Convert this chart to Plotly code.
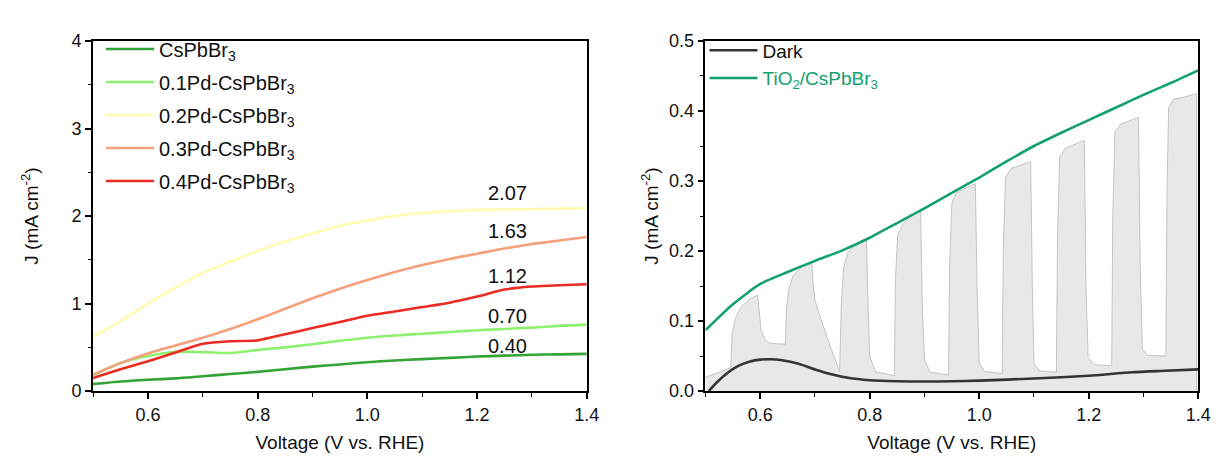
import plotly.graph_objects as go

# ---------------- Left panel data ----------------
v_left = [0.50, 0.55, 0.60, 0.65, 0.70, 0.75, 0.80, 0.85, 0.90, 0.95,
          1.00, 1.05, 1.10, 1.15, 1.20, 1.25, 1.30, 1.35, 1.40]
j_cspbbr3 = [0.08, 0.11, 0.13, 0.145, 0.17, 0.195, 0.22, 0.25, 0.28, 0.305,
             0.33, 0.35, 0.365, 0.38, 0.395, 0.405, 0.415, 0.42, 0.425]
j_01pd = [0.18, 0.32, 0.40, 0.45, 0.445, 0.435, 0.47, 0.50, 0.535, 0.575,
          0.61, 0.635, 0.655, 0.675, 0.695, 0.71, 0.725, 0.745, 0.76]
j_02pd = [0.62, 0.80, 1.00, 1.18, 1.35, 1.48, 1.60, 1.71, 1.80, 1.89,
          1.95, 2.00, 2.035, 2.055, 2.07, 2.075, 2.08, 2.085, 2.09]
j_03pd = [0.19, 0.32, 0.43, 0.52, 0.61, 0.71, 0.82, 0.94, 1.06, 1.17,
          1.27, 1.36, 1.44, 1.51, 1.57, 1.63, 1.68, 1.72, 1.76]
j_04pd = [0.15, 0.25, 0.34, 0.44, 0.54, 0.57, 0.58, 0.65, 0.72, 0.79,
          0.86, 0.91, 0.96, 1.01, 1.08, 1.16, 1.195, 1.21, 1.22]
left_names = ["CsPbBr<sub>3</sub>", "0.1Pd-CsPbBr<sub>3</sub>", "0.2Pd-CsPbBr<sub>3</sub>",
              "0.3Pd-CsPbBr<sub>3</sub>", "0.4Pd-CsPbBr<sub>3</sub>"]
left_colors = ["#34A234", "#8DF070", "#FFFBB0", "#F5A07C", "#EC2B25"]

value_labels = ["2.07", "1.63", "1.12", "0.70", "0.40"]
label_x = [1.255, 1.255, 1.255, 1.255, 1.255]
label_y = [2.26, 1.83, 1.31, 0.86, 0.52]

# ---------------- Right panel data ----------------
v_light = [0.50, 0.546, 0.549, 0.555, 0.565, 0.580, 0.595,
           0.598, 0.602, 0.610, 0.620, 0.646,
           0.648, 0.652, 0.660, 0.675, 0.694,
           0.697, 0.700, 0.710, 0.725, 0.745,
           0.748, 0.752, 0.760, 0.775, 0.794,
           0.797, 0.800, 0.810, 0.845,
           0.847, 0.851, 0.860, 0.875, 0.893,
           0.896, 0.900, 0.910, 0.944,
           0.946, 0.950, 0.958, 0.975, 0.993,
           0.996, 1.000, 1.010, 1.042,
           1.044, 1.048, 1.058, 1.075, 1.094,
           1.097, 1.100, 1.110, 1.141,
           1.143, 1.147, 1.158, 1.175, 1.192,
           1.195, 1.199, 1.210, 1.242,
           1.244, 1.248, 1.258, 1.275, 1.291,
           1.294, 1.298, 1.308, 1.341,
           1.343, 1.346, 1.355, 1.375, 1.393, 1.397, 1.397]
j_light = [0.020, 0.033, 0.085, 0.105, 0.120, 0.131, 0.137,
           0.110, 0.085, 0.072, 0.068, 0.067,
           0.120, 0.145, 0.165, 0.177, 0.183,
           0.150, 0.130, 0.105, 0.070, 0.028,
           0.120, 0.175, 0.198, 0.210, 0.216,
           0.120, 0.050, 0.028, 0.022,
           0.160, 0.222, 0.238, 0.250, 0.259,
           0.120, 0.045, 0.027, 0.023,
           0.180, 0.268, 0.283, 0.290, 0.296,
           0.150, 0.040, 0.028, 0.025,
           0.200, 0.305, 0.318, 0.323, 0.328,
           0.150, 0.040, 0.029, 0.027,
           0.220, 0.335, 0.347, 0.352, 0.358,
           0.150, 0.048, 0.038, 0.036,
           0.250, 0.370, 0.381, 0.386, 0.391,
           0.180, 0.060, 0.051, 0.050,
           0.280, 0.405, 0.417, 0.420, 0.424, 0.425, 0.0]

v_tio2 = [0.50, 0.55, 0.60, 0.65, 0.70, 0.75, 0.80, 0.85, 0.90, 0.95,
          1.00, 1.05, 1.10, 1.15, 1.20, 1.25, 1.30, 1.35, 1.40]
j_tio2 = [0.087, 0.124, 0.153, 0.170, 0.186, 0.201, 0.219, 0.240, 0.261, 0.283,
          0.305, 0.328, 0.350, 0.369, 0.387, 0.405, 0.423, 0.440, 0.458]

v_dark = [0.506, 0.52, 0.54, 0.56, 0.58, 0.60, 0.62, 0.64, 0.67, 0.70, 0.73, 0.76,
          0.80, 0.85, 0.90, 0.95, 1.00, 1.10, 1.20, 1.28, 1.34, 1.40]
j_dark = [0.0, 0.012, 0.026, 0.036, 0.042, 0.045, 0.0455, 0.044, 0.039, 0.031, 0.024, 0.019,
          0.0155, 0.014, 0.0137, 0.014, 0.015, 0.018, 0.022, 0.027, 0.029, 0.031]

FONT = "Liberation Sans, Arial, sans-serif"
TICK_SIZE = 18
TITLE_SIZE = 19
LEG_SIZE = 20

fig = go.Figure()

for name, color, j in zip(left_names, left_colors, [j_cspbbr3, j_01pd, j_02pd, j_03pd, j_04pd]):
    fig.add_trace(go.Scatter(x=v_left, y=j, mode="lines", name=name, legendgroup=name,
                             line=dict(color=color, width=2.6, shape="spline", smoothing=0.6),
                             xaxis="x", yaxis="y", legend="legend"))

fig.add_trace(go.Scatter(x=v_light, y=j_light, mode="lines", fill="tozeroy",
                         fillcolor="#E8E8E8", line=dict(color="#C4C4C4", width=1),
                         showlegend=False, xaxis="x2", yaxis="y2"))
fig.add_trace(go.Scatter(x=v_dark, y=j_dark, mode="lines", name="Dark", legendgroup="dark",
                         line=dict(color="#333333", width=2.6, shape="spline", smoothing=0.6),
                         xaxis="x2", yaxis="y2", legend="legend2"))
fig.add_trace(go.Scatter(x=v_tio2, y=j_tio2, mode="lines",
                         name="<span style='color:#14A070'>TiO<sub>2</sub>/CsPbBr<sub>3</sub></span>",
                         legendgroup="tio2",
                         line=dict(color="#14A070", width=2.6, shape="spline", smoothing=0.6),
                         xaxis="x2", yaxis="y2", legend="legend2"))

for t, x, y in zip(value_labels, label_x, label_y):
    fig.add_annotation(x=x, y=y, xref="x", yref="y", text=t, showarrow=False,
                       font=dict(size=LEG_SIZE, color="#111111", family=FONT))

W, H = 1221, 462
yd = [1 - 390 / H, 1 - 24 / H]

axis_common = dict(showline=True, linecolor="black", linewidth=1.8, mirror=True,
                   ticks="outside", ticklen=6, tickwidth=1.5, tickcolor="black",
                   showgrid=False, zeroline=False,
                   tickfont=dict(size=TICK_SIZE, color="#111111", family=FONT))
minor_common = dict(ticks="outside", ticklen=3.5, tickwidth=1.3, tickcolor="black")

fig.update_layout(
    width=W, height=H,
    margin=dict(l=0, r=0, t=0, b=0),
    paper_bgcolor="white", plot_bgcolor="white",
    font=dict(family=FONT, size=TICK_SIZE, color="#111111"),
    xaxis=dict(domain=[86 / W, 585 / W], range=[0.5, 1.4], anchor="y",
               tickvals=[0.6, 0.8, 1.0, 1.2, 1.4], ticktext=["0.6", "0.8", "1.0", "1.2", "1.4"],
               minor=dict(tickvals=[0.5, 0.7, 0.9, 1.1, 1.3], **minor_common),
               title=dict(text="Voltage (V vs. RHE)", font=dict(size=TITLE_SIZE, family=FONT), standoff=12),
               **axis_common),
    yaxis=dict(domain=yd, range=[0, 4], anchor="x", tickvals=[0, 1, 2, 3, 4],
               minor=dict(tickvals=[0.5, 1.5, 2.5, 3.5], **minor_common),
               title=dict(text="J (mA cm<sup>-2</sup>)", font=dict(size=TITLE_SIZE, family=FONT), standoff=28),
               **axis_common),
    xaxis2=dict(domain=[705 / W, 1203 / W], range=[0.5, 1.4], anchor="y2",
                tickvals=[0.6, 0.8, 1.0, 1.2, 1.4], ticktext=["0.6", "0.8", "1.0", "1.2", "1.4"],
                minor=dict(tickvals=[0.5, 0.7, 0.9, 1.1, 1.3], **minor_common),
                title=dict(text="Voltage (V vs. RHE)", font=dict(size=TITLE_SIZE, family=FONT), standoff=12),
                **axis_common),
    yaxis2=dict(domain=yd, range=[0, 0.5], anchor="x2",
                tickvals=[0, 0.1, 0.2, 0.3, 0.4, 0.5],
                ticktext=["0.0", "0.1", "0.2", "0.3", "0.4", "0.5"],
                minor=dict(tickvals=[0.05, 0.15, 0.25, 0.35, 0.45], **minor_common),
                title=dict(text="J (mA cm<sup>-2</sup>)", font=dict(size=TITLE_SIZE, family=FONT), standoff=5),
                **axis_common),
    legend=dict(x=94 / W, y=1 - 12 / H, xanchor="left", yanchor="top",
                bgcolor="rgba(0,0,0,0)", font=dict(size=LEG_SIZE, family=FONT, color="#111111"),
                tracegroupgap=4, itemwidth=48),
    legend2=dict(x=704 / W, y=1 - 14 / H, xanchor="left", yanchor="top",
                 bgcolor="rgba(0,0,0,0)", font=dict(size=LEG_SIZE - 1, family=FONT, color="#111111"),
                 tracegroupgap=0, itemwidth=48),
)

fig.write_html("out.html")
